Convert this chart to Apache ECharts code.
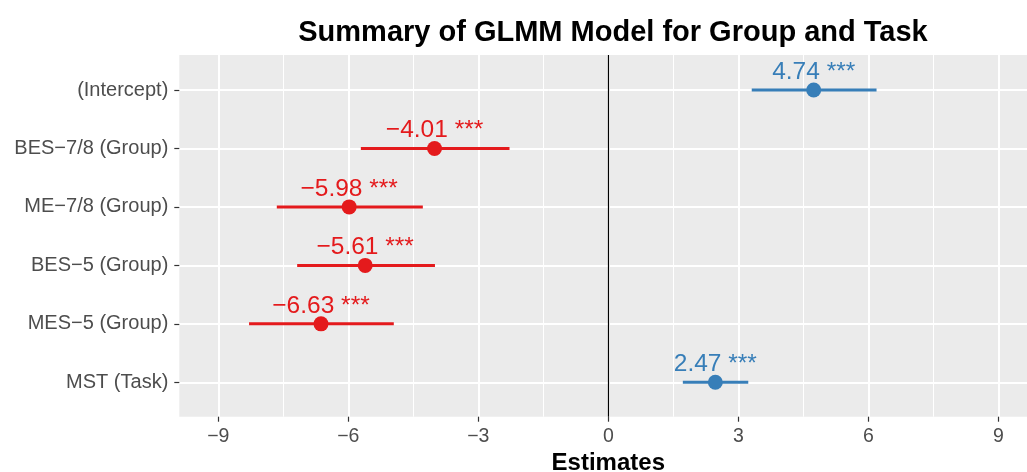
<!DOCTYPE html>
<html>
<head>
<meta charset="utf-8">
<script src="https://cdn.jsdelivr.net/npm/echarts@6/dist/echarts.min.js"></script>
<style>
  html, body { margin: 0; padding: 0; background: #fff; }
  #chart { width: 1027px; height: 472px; }
</style>
</head>
<body>
<div id="chart"></div>
<script>
// model terms, top to bottom
const terms = ['(Intercept)', 'BES\u22127/8 (Group)', 'ME\u22127/8 (Group)', 'BES\u22125 (Group)', 'MES\u22125 (Group)', 'MST (Task)'];
const estimates = [4.74, -4.01, -5.98, -5.61, -6.63, 2.47];
const ciLow = [3.31, -5.71, -7.65, -7.18, -8.29, 1.72];
const ciHigh = [6.19, -2.28, -4.28, -4.00, -4.95, 3.23];
const stars = ['***', '***', '***', '***', '***', '***'];
const xTicks = [-9, -6, -3, 0, 3, 6, 9];

const FONT = "'Liberation Sans', Arial, sans-serif";
const RED = '#E41A1C';
const BLUE = '#377EB8';
const colorOf = v => (v < 0 ? RED : BLUE);
const fmt = v => (v < 0 ? '\u2212' + Math.abs(v).toFixed(2) : v.toFixed(2));

const myChart = echarts.init(document.getElementById('chart'), null, { renderer: 'canvas' });

const option = {
    animation: false,
    backgroundColor: '#fff',
    title: {
        text: 'Summary of GLMM Model for Group and Task',
        left: 608,
        top: 13,
        textAlign: 'center',
        textStyle: { fontFamily: FONT, fontSize: 29, fontWeight: 'bold', color: '#000' },
    },
    grid: [
        // panel background, limits -9.9..9.9 (runs past the right edge)
        { left: 179.3, width: 858, top: 55, bottom: 55.3, show: true, backgroundColor: '#EBEBEB', borderWidth: 0, outerBoundsMode: 'none', containLabel: false },
        // tick grid, -9..9
        { left: 218.3, width: 780, top: 55, bottom: 55.3, outerBoundsMode: 'none', containLabel: false },
        // data grid, rows 1..6
        { left: 179.3, width: 858, top: 90, bottom: 89.7, outerBoundsMode: 'none', containLabel: false },
    ],
    xAxis: [
        { gridIndex: 0, type: 'value', min: -9.9, max: 9.9, show: false },
        {
            gridIndex: 1,
            type: 'value',
            min: xTicks[0],
            max: xTicks[xTicks.length - 1],
            interval: 3,
            name: 'Estimates',
            nameLocation: 'middle',
            nameGap: 33,
            nameTextStyle: { fontFamily: FONT, fontSize: 24, fontWeight: 'bold', color: '#000' },
            axisLine: { show: false, onZero: false },
            axisTick: { show: true, length: 5, lineStyle: { color: '#333', width: 1.2 } },
            axisLabel: {
                margin: 10,
                fontFamily: FONT,
                fontSize: 19.5,
                color: '#4D4D4D',
                formatter: v => (v < 0 ? '\u2212' + Math.abs(v) : String(v)),
            },
            splitLine: { show: true, lineStyle: { color: '#fff', width: 2 } },
            minorTick: { show: false, splitNumber: 2 },
            minorSplitLine: { show: true, lineStyle: { color: '#fff', width: 1 } },
        },
        { gridIndex: 2, type: 'value', min: -9.9, max: 9.9, show: false },
    ],
    yAxis: [
        { gridIndex: 0, type: 'value', show: false },
        { gridIndex: 1, type: 'value', show: false, min: 0, max: 1 },
        {
            gridIndex: 2,
            type: 'value',
            inverse: true,
            min: 1,
            max: terms.length,
            interval: 1,
            axisLine: { show: false, onZero: false },
            axisTick: { show: true, length: 5, lineStyle: { color: '#333', width: 1.2 } },
            axisLabel: {
                margin: 11,
                padding: [4, 0, 0, 0],
                fontFamily: FONT,
                fontSize: 20,
                color: '#4D4D4D',
                formatter: v => terms[v - 1] || '',
            },
            splitLine: { show: true, lineStyle: { color: '#fff', width: 2 } },
        },
    ],
    series: [
        {
            // vertical reference line at 0
            type: 'line',
            xAxisIndex: 1,
            yAxisIndex: 1,
            data: [],
            markLine: {
                silent: true,
                symbol: 'none',
                label: { show: false },
                lineStyle: { color: '#000', width: 1.2, type: 'solid' },
                data: [{ xAxis: 0 }],
            },
        },
        {
            // confidence intervals
            type: 'custom',
            xAxisIndex: 2,
            yAxisIndex: 2,
            data: terms.map((t, i) => [ciLow[i], ciHigh[i], i + 1, estimates[i]]),
            encode: { x: [0, 1], y: 2 },
            renderItem: (params, api) => {
                const p1 = api.coord([api.value(0), api.value(2)]);
                const p2 = api.coord([api.value(1), api.value(2)]);
                return {
                    type: 'line',
                    shape: { x1: p1[0], y1: p1[1], x2: p2[0], y2: p2[1] },
                    style: { stroke: colorOf(api.value(3)), lineWidth: 3 },
                };
            },
            z: 3,
        },
        {
            // estimates
            type: 'scatter',
            xAxisIndex: 2,
            yAxisIndex: 2,
            symbol: 'circle',
            symbolSize: 15,
            itemStyle: { opacity: 1 },
            data: estimates.map((e, i) => ({
                value: [e, i + 1],
                itemStyle: { color: colorOf(e), opacity: 1 },
                label: { color: colorOf(e) },
            })),
            label: {
                show: true,
                position: 'top',
                distance: -2,
                fontFamily: FONT,
                fontSize: 24.5,
                formatter: p => fmt(estimates[p.dataIndex]) + ' ' + stars[p.dataIndex],
            },
            z: 4,
        },
    ],
};

myChart.setOption(option);
</script>
</body>
</html>
